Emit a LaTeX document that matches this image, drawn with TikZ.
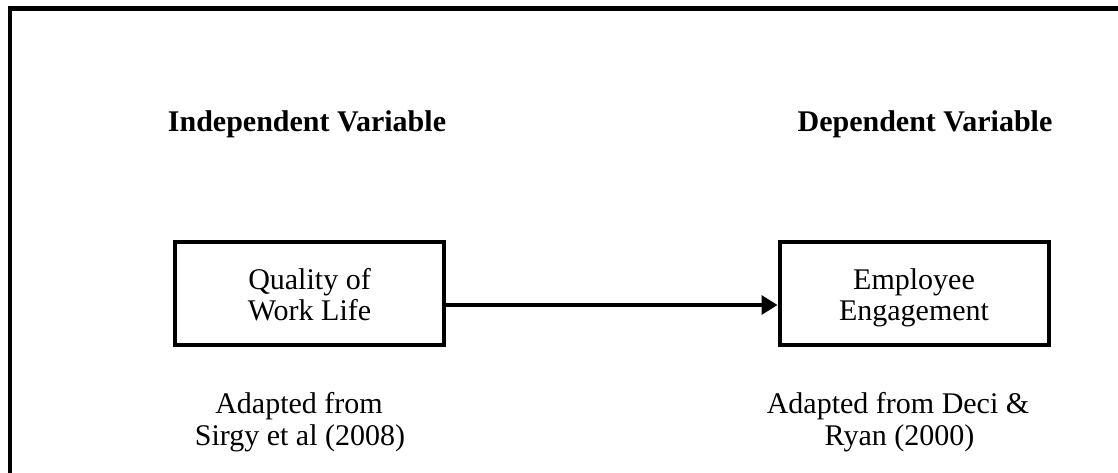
\documentclass[tikz,border=0pt]{standalone}
\usepackage{fontspec}
\setmainfont{Liberation Serif}
\usetikzlibrary{arrows.meta}
\begin{document}
\begin{tikzpicture}[x=1pt,y=1pt,
  box/.style={draw,line width=4pt,minimum width=269pt,minimum height=103pt,inner sep=0pt},
  boxtxt/.style={anchor=north,align=center,inner sep=0pt,font=\fontsize{30}{31}\selectfont},
  head/.style={anchor=base,font=\fontsize{30}{31}\selectfont\bfseries,inner sep=0pt},
  txt/.style={anchor=base,font=\fontsize{30}{31}\selectfont,inner sep=0pt},
  conn/.style={line width=3.5pt,-{Triangle[length=16pt,width=19pt]}}]
\useasboundingbox (0,0) rectangle (1118,-473);
\draw[line width=4.5pt] (10,-490) -- (10,-8.5) -- (1130,-8.5);
\node[head] (ih) at (307,-132) {Independent Variable};
\node[head] (dh) at (925,-132) {Dependent Variable};
\node[box] (qwl) at (309.5,-293.5) {};
\node[box] (ee) at (914,-293.5) {};
\node[boxtxt] (qwlt) at ([yshift=-28pt]qwl.north) {Quality of\\Work Life};
\node[boxtxt] (eet) at ([yshift=-28pt]ee.north) {Employee\\Engagement};
\coordinate (ay) at (0,-305);
\draw[conn] (qwl.east |- ay) -- (ee.west |- ay);
\node[txt] (a1) at (299,-413) {Adapted from};
\node[txt] (a2) at (300,-445) {Sirgy et al (2008)};
\node[txt] (b1) at (898,-413) {Adapted from Deci \&};
\node[txt] (b2) at (899.5,-445) {Ryan (2000)};
\end{tikzpicture}
\end{document}
